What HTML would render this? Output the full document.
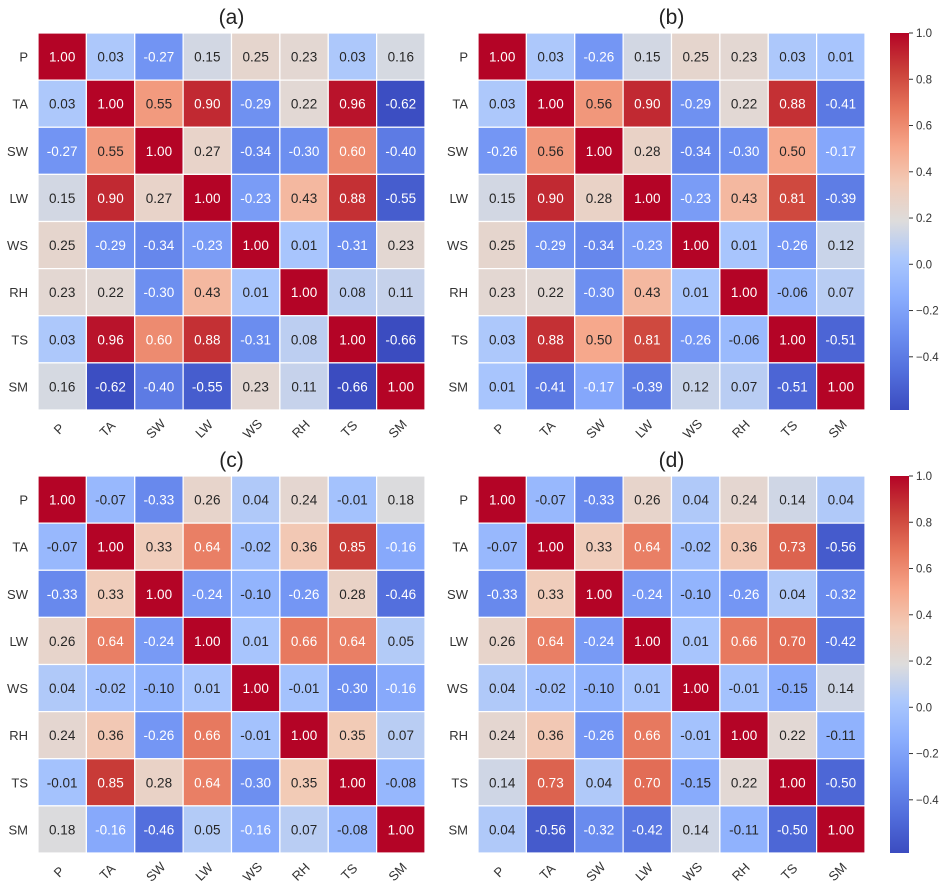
<!DOCTYPE html>
<html><head><meta charset="utf-8"><style>
body{margin:0;background:#fff;}
svg{display:block;font-family:"Liberation Sans",sans-serif;}
</style></head><body>
<svg id="fig" width="944" height="892" viewBox="0 0 944 892"></svg>
<script>
const labels=["P","TA","SW","LW","WS","RH","TS","SM"];
const panelTitles=["(a)","(b)","(c)","(d)"];
const matA=[
[1.00,0.03,-0.27,0.15,0.25,0.23,0.03,0.16],
[0.03,1.00,0.55,0.90,-0.29,0.22,0.96,-0.62],
[-0.27,0.55,1.00,0.27,-0.34,-0.30,0.60,-0.40],
[0.15,0.90,0.27,1.00,-0.23,0.43,0.88,-0.55],
[0.25,-0.29,-0.34,-0.23,1.00,0.01,-0.31,0.23],
[0.23,0.22,-0.30,0.43,0.01,1.00,0.08,0.11],
[0.03,0.96,0.60,0.88,-0.31,0.08,1.00,-0.66],
[0.16,-0.62,-0.40,-0.55,0.23,0.11,-0.66,1.00]];
const matB=[
[1.00,0.03,-0.26,0.15,0.25,0.23,0.03,0.01],
[0.03,1.00,0.56,0.90,-0.29,0.22,0.88,-0.41],
[-0.26,0.56,1.00,0.28,-0.34,-0.30,0.50,-0.17],
[0.15,0.90,0.28,1.00,-0.23,0.43,0.81,-0.39],
[0.25,-0.29,-0.34,-0.23,1.00,0.01,-0.26,0.12],
[0.23,0.22,-0.30,0.43,0.01,1.00,-0.06,0.07],
[0.03,0.88,0.50,0.81,-0.26,-0.06,1.00,-0.51],
[0.01,-0.41,-0.17,-0.39,0.12,0.07,-0.51,1.00]];
const matC=[
[1.00,-0.07,-0.33,0.26,0.04,0.24,-0.01,0.18],
[-0.07,1.00,0.33,0.64,-0.02,0.36,0.85,-0.16],
[-0.33,0.33,1.00,-0.24,-0.10,-0.26,0.28,-0.46],
[0.26,0.64,-0.24,1.00,0.01,0.66,0.64,0.05],
[0.04,-0.02,-0.10,0.01,1.00,-0.01,-0.30,-0.16],
[0.24,0.36,-0.26,0.66,-0.01,1.00,0.35,0.07],
[-0.01,0.85,0.28,0.64,-0.30,0.35,1.00,-0.08],
[0.18,-0.16,-0.46,0.05,-0.16,0.07,-0.08,1.00]];
const matD=[
[1.00,-0.07,-0.33,0.26,0.04,0.24,0.14,0.04],
[-0.07,1.00,0.33,0.64,-0.02,0.36,0.73,-0.56],
[-0.33,0.33,1.00,-0.24,-0.10,-0.26,0.04,-0.32],
[0.26,0.64,-0.24,1.00,0.01,0.66,0.70,-0.42],
[0.04,-0.02,-0.10,0.01,1.00,-0.01,-0.15,0.14],
[0.24,0.36,-0.26,0.66,-0.01,1.00,0.22,-0.11],
[0.14,0.73,0.04,0.70,-0.15,0.22,1.00,-0.50],
[0.04,-0.56,-0.32,-0.42,0.14,-0.11,-0.50,1.00]];
const cbTicks=[1.0,0.8,0.6,0.4,0.2,0.0,-0.2,-0.4];
const vmin=-0.63, vmax=1.0;

const stops=[[59,76,192],[82,110,220],[108,142,240],[138,173,253],[170,199,253],[221,220,220],[242,203,183],[246,165,137],[230,117,91],[202,64,57],[180,4,38]];
function cmap(v){let t=(v-vmin)/(vmax-vmin);t=Math.max(0,Math.min(1,t));const f=t*10,i=Math.min(9,Math.floor(f)),r=f-i;const a=stops[i],b=stops[i+1];return [0,1,2].map(k=>Math.round(a[k]+(b[k]-a[k])*r));}
function lum(c){const l=c.map(x=>{x/=255;return x<=0.03928?x/12.92:Math.pow((x+0.055)/1.055,2.4)});return 0.2126*l[0]+0.7152*l[1]+0.0722*l[2];}
const NS="http://www.w3.org/2000/svg";
const svg=document.getElementById('fig');
function el(tag,attrs,parent){const e=document.createElementNS(NS,tag);for(const k in attrs)e.setAttribute(k,attrs[k]);(parent||svg).appendChild(e);return e;}

const panels=[{m:matA,x:38,y:33},{m:matB,x:478,y:33},{m:matC,x:38,y:476},{m:matD,x:478,y:476}];
const W=387,H=377,n=labels.length,cw=W/n,ch=H/n;
panels.forEach((p,pi)=>{
  const g=el('g',{});
  
  
  const t=el('text',{x:p.x+W/2,y:p.y-9,'text-anchor':'middle','font-size':21,fill:'#222'},g);
  t.textContent=panelTitles[pi];
  
  
  for(let i=0;i<n;i++)for(let j=0;j<n;j++){
    const v=p.m[i][j],c=cmap(v);
    const r=el('rect',{x:p.x+j*cw,y:p.y+i*ch,width:cw,height:ch,fill:`rgb(${c})`,stroke:'#fff','stroke-width':1.2},g);
    
    
    const tx=el('text',{x:p.x+(j+0.5)*cw,y:p.y+(i+0.5)*ch+5,'text-anchor':'middle','font-size':13.5,fill:lum(c)>0.408?'#262626':'#fff'},g);
    tx.textContent=v.toFixed(2);
    
    
  }
  labels.forEach((l,i)=>{
    const yl=el('text',{x:p.x-10,y:p.y+(i+0.5)*ch+5,'text-anchor':'end','font-size':13,fill:'#333'},g);
    yl.textContent=l;
    
    
    const cx=p.x+(i+0.5)*cw, cy=p.y+H+22;
    const xl=el('text',{x:cx,y:cy,'text-anchor':'middle','font-size':13,fill:'#333',transform:`rotate(-45 ${cx} ${cy})`},g);
    xl.textContent=l;
    
    
  });
});
const defs=el('defs',{});
const grad=el('linearGradient',{id:'cb',x1:0,y1:1,x2:0,y2:0},defs);
stops.forEach((s,i)=>el('stop',{offset:i/10,'stop-color':`rgb(${s})`},grad));
[33,476].forEach((y0,ci)=>{
  const g=el('g',{});
  
  
  const x0=890,w=19,h=377;
  el('rect',{x:x0,y:y0,width:w,height:h,fill:'url(#cb)'},g);
  cbTicks.forEach(v=>{
    const ty=y0+(vmax-v)/(vmax-vmin)*h;
    el('line',{x1:x0+w,x2:x0+w+4,y1:ty,y2:ty,stroke:'#333','stroke-width':1},g);
    const tt=el('text',{x:x0+w+7,y:ty+4,'font-size':11.5,fill:'#333'},g);
    tt.textContent=v<0?'\u2212'+Math.abs(v).toFixed(1):v.toFixed(1);
    
    
  });
});
</script>
</body></html>
